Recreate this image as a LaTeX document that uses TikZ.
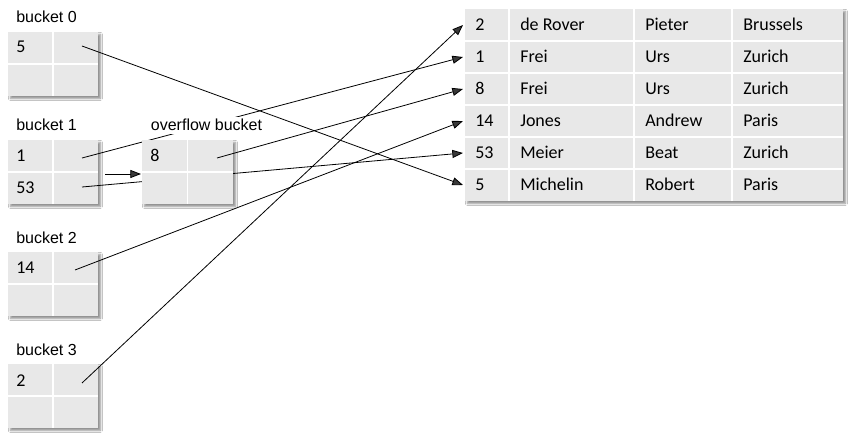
\documentclass[tikz,border=0pt]{standalone}
\usepackage{fontspec}
\setmainfont{Carlito}
\newfontfamily\arialf{Liberation Sans}
\usetikzlibrary{arrows.meta,shadows.blur}
\definecolor{cellgray}{HTML}{E8E8E8}
\tikzset{
  boxshadow/.style={blur shadow={shadow xshift=1.8pt,shadow yshift=-1.8pt,shadow blur radius=1.5pt,shadow opacity=45}},
  ptr/.style={line width=0.6pt,-{Triangle[length=8pt,width=6pt]}},
  plain/.style={line width=0.6pt},
  lbl/.style={font=\arialf\fontsize{12}{14}\selectfont,anchor=base west,inner sep=0pt},
  txt/.style={font=\fontsize{13.5}{16}\selectfont,anchor=base west,inner sep=0pt},
  grid/.style={white,line width=1.2pt},
}
\newcommand\bucketbox[3]{% x, y top, width
  \path[fill=cellgray,boxshadow] (#1,#2) rectangle ++(#3,64);
  \draw[grid] (#1+#3/2,#2) -- ++(0,64) (#1,#2+32) -- ++(#3,0);
}
\begin{document}
\begin{tikzpicture}[x=0.75pt,y=-0.75pt]
\useasboundingbox[fill=white] (0,0) rectangle (851,442);
% buckets
\bucketbox{8}{32}{90}
\bucketbox{8}{140}{90}
\bucketbox{8}{252}{90}
\bucketbox{8}{364}{90}
\node[lbl] (lb0) at (16,23) {bucket 0};
\node[lbl] (lb1) at (16,131) {bucket 1};
\node[lbl] (lb2) at (16,244) {bucket 2};
\node[lbl] (lb3) at (16,356) {bucket 3};
\node[txt] (b0k) at (16,53) {5};
\node[txt] (b1k1) at (16,162) {1};
\node[txt] (b1k2) at (16,194) {53};
\node[txt] (b2k) at (16,274) {14};
\node[txt] (b3k) at (16,387) {2};
% table
\path[fill=cellgray,boxshadow] (465,9) rectangle (843,201);
\draw[grid] (509,9) -- (509,201) (634,9) -- (634,201) (732,9) -- (732,201)
  (465,41) -- (843,41) (465,73) -- (843,73) (465,105) -- (843,105)
  (465,137) -- (843,137) (465,169) -- (843,169);
\foreach \r/\a/\b/\c/\d [count=\i] in {2/de Rover/Pieter/Brussels,1/Frei/Urs/Zurich,8/Frei/Urs/Zurich,14/Jones/Andrew/Paris,53/Meier/Beat/Zurich,5/Michelin/Robert/Paris}{
  \node[txt] (r\i c1) at (475,{31+32*(\i-1)}) {\r};
  \node[txt] (r\i c2) at (520,{31+32*(\i-1)}) {\a};
  \node[txt] (r\i c3) at (645,{31+32*(\i-1)}) {\b};
  \node[txt] (r\i c4) at (743,{31+32*(\i-1)}) {\c};
  \coordinate (t\i) at (463,{25+32*(\i-1)});
}
% pointer origins
\coordinate (p0) at (82,46);
\coordinate (p1) at (82,158);
\coordinate (p53) at (82,187);
\coordinate (p14) at (75,270);
\coordinate (p2) at (82,383);
\coordinate (p8) at (217,158);
\coordinate (ofs) at (105,174);
\coordinate (ofe) at (141,174);
% pointers passing behind overflow bucket
\draw[ptr] (p0) -- (t6);
\draw[ptr] (p1) -- (t2);
\draw[ptr] (p53) -- (t5);
\draw[ptr] (p14) -- (t4);
\draw[ptr] (p2) -- (t1);
% overflow bucket
\bucketbox{142}{140}{91}
\node[lbl,fill=white,inner sep=2pt] (lov) at (148,131) {overflow bucket};
\node[txt] (ok) at (150,162) {8};
\draw[ptr] (p8) -- (t3);
\draw[ptr] (ofs) -- (ofe);
\end{tikzpicture}
\end{document}
